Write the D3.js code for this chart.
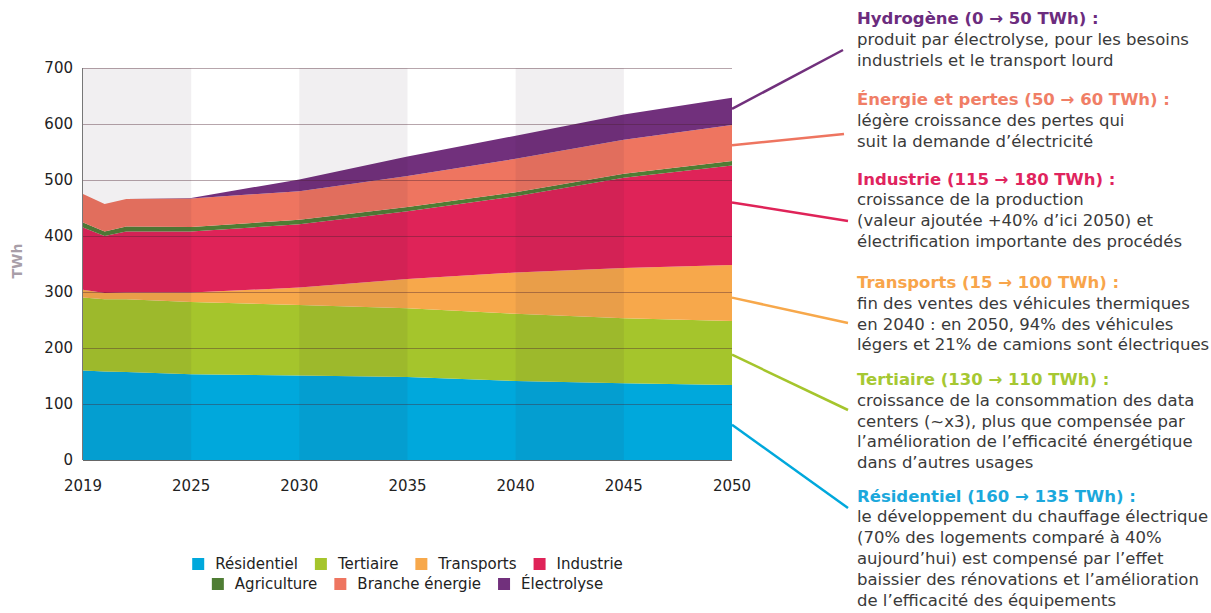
<!DOCTYPE html>
<html>
<head>
<meta charset="utf-8">
<script src="https://cdn.jsdelivr.net/npm/d3@7"></script>
<style>
  body { margin: 0; background: #fff; }
  svg { display: block; font-family: "DejaVu Sans", Verdana, sans-serif; }
</style>
</head>
<body>
<div id="vis"></div>
<script>
// data (TWh)
const years = [2019, 2020, 2021, 2025, 2030, 2035, 2040, 2045, 2050];
const residentiel = [160, 158, 157, 153, 151, 148, 141, 137, 134];
const tertiaire   = [130, 129, 130, 129, 126, 123, 120, 116, 114];
const transports  = [14, 11, 12, 17, 31, 52, 74, 90, 100];
const industrie   = [111, 102, 109, 109, 113, 121, 136, 161, 178];
const agriculture = [9, 8, 9, 8, 8, 8, 7, 7, 8];
const brancheEnergie = [51, 49, 49, 51, 51, 55, 60, 61, 64];
const electrolyse = [0, 0, 0, 1, 21, 35, 41, 45, 49];

const seriesNames = ["Résidentiel", "Tertiaire", "Transports", "Industrie", "Agriculture", "Branche énergie", "Électrolyse"];
const seriesValues = [residentiel, tertiaire, transports, industrie, agriculture, brancheEnergie, electrolyse];
const seriesColors = ["#00a8dc", "#a5c52c", "#f7a84b", "#df2358", "#4f7d34", "#ee7560", "#71307c"];

const xTicks = [2019, 2025, 2030, 2035, 2040, 2045, 2050];
const yTicks = [0, 100, 200, 300, 400, 500, 600, 700];
const bands = [[2019, 2025], [2030, 2035], [2040, 2045]];

// annotations on the right, from the top down
const notes = [
  { title: "Hydrogène (0 → 50 TWh) :", color: "#6c2c7e", series: 6, anchorY: 627,
    lines: ["produit par électrolyse, pour les besoins", "industriels et le transport lourd"] },
  { title: "Énergie et pertes (50 → 60 TWh) :", color: "#f07e66", series: 5, anchorY: 562,
    lines: ["légère croissance des pertes qui", "suit la demande d’électricité"] },
  { title: "Industrie (115 → 180 TWh) :", color: "#e0245e", series: 3, anchorY: 460,
    lines: ["croissance de la production", "(valeur ajoutée +40% d’ici 2050) et", "électrification importante des procédés"] },
  { title: "Transports (15 → 100 TWh) :", color: "#f8a54b", series: 2, anchorY: 290,
    lines: ["fin des ventes des véhicules thermiques", "en 2040 : en 2050, 94% des véhicules", "légers et 21% de camions sont électriques"] },
  { title: "Tertiaire (130 → 110 TWh) :", color: "#a6c832", series: 1, anchorY: 188,
    lines: ["croissance de la consommation des data", "centers (~x3), plus que compensée par", "l’amélioration de l’efficacité énergétique", "dans d’autres usages"] },
  { title: "Résidentiel (160 → 135 TWh) :", color: "#1ba8dc", series: 0, anchorY: 63,
    lines: ["le développement du chauffage électrique", "(70% des logements comparé à 40%", "aujourd’hui) est compensé par l’effet", "baissier des rénovations et l’amélioration", "de l’efficacité des équipements"] }
];
// leader line ends and title baselines of each text block
const noteEnds = [[843, 50], [844, 134], [848, 221], [848, 323], [848, 410], [848, 508]];
const noteTop = [24, 105, 184.5, 288, 385, 501.5];

const W = 1211, H = 613;
const margin = { left: 83, top: 68, right: 479, bottom: 153 };
const width = W - margin.left - margin.right,
      height = H - margin.top - margin.bottom;

const svg = d3.select("#vis").append("svg")
    .attr("width", W)
    .attr("height", H);

const g = svg.append("g")
    .attr("transform", "translate(" + margin.left + "," + margin.top + ")");

// the source axis gives 2019-2025 the same width as each later 5-year step
const x = d3.scaleLinear()
    .domain([2019, 2021, 2025, 2050])
    .range([0, 2, 5, 30].map(u => u * width / 30));
const y = d3.scaleLinear().domain([0, 700]).range([height, 0]);

// build a table for d3.stack
const table = years.map((yr, i) => {
    const row = { year: yr };
    seriesNames.forEach((n, k) => { row[n] = seriesValues[k][i]; });
    return row;
});
const stacked = d3.stack().keys(seriesNames)(table);

const area = d3.area()
    .x(d => x(d.data.year))
    .y0(d => y(d[0]))
    .y1(d => y(d[1]));

g.selectAll(".layer")
    .data(stacked)
    .enter().append("path")
    .attr("class", "layer")
    .attr("fill", (d, i) => seriesColors[i])
    .attr("d", area);

// shaded bands, drawn over the areas
g.selectAll(".band")
    .data(bands)
    .enter().append("rect")
    .attr("class", "band")
    .attr("x", d => x(d[0]))
    .attr("width", d => x(d[1]) - x(d[0]))
    .attr("y", 0)
    .attr("height", height)
    .attr("fill", "#3a203a")
    .attr("opacity", 0.07);

// grid lines
g.selectAll(".grid")
    .data(yTicks.filter(v => v > 0))
    .enter().append("line")
    .attr("class", "grid")
    .attr("x1", 0).attr("x2", width)
    .attr("y1", d => Math.round(y(d)) + 0.5)
    .attr("y2", d => Math.round(y(d)) + 0.5)
    .attr("stroke", "#4a2030")
    .attr("stroke-opacity", 0.4)
    .attr("stroke-width", 1);

// axis lines
g.append("line")
    .attr("x1", 0).attr("x2", width)
    .attr("y1", height + 0.5).attr("y2", height + 0.5)
    .attr("stroke", "#666").attr("stroke-width", 1.2);
g.append("line")
    .attr("x1", -0.5).attr("x2", -0.5)
    .attr("y1", y(700)).attr("y2", height)
    .attr("stroke", "#777").attr("stroke-width", 1);

// y tick labels
g.selectAll(".ylab")
    .data(yTicks)
    .enter().append("text")
    .attr("class", "ylab")
    .attr("x", -10)
    .attr("y", d => y(d))
    .attr("dy", "0.36em")
    .attr("text-anchor", "end")
    .attr("font-size", "15px")
    .attr("fill", "#222")
    .text(d => d);

// x tick labels
g.selectAll(".xlab")
    .data(xTicks)
    .enter().append("text")
    .attr("class", "xlab")
    .attr("x", d => x(d))
    .attr("y", height + 31)
    .attr("text-anchor", "middle")
    .attr("font-size", "15px")
    .attr("fill", "#222")
    .text(d => d);

// y axis title
svg.append("text")
    .attr("transform", "translate(22,261) rotate(-90)")
    .attr("text-anchor", "middle")
    .attr("font-size", "14px")
    .attr("font-weight", "bold")
    .attr("fill", "#a89ea8")
    .text("TWh");

// legend, two centred rows
const legendRows = [[0, 1, 2, 3], [4, 5, 6]];
const legendY = [564, 584];
legendRows.forEach((row, r) => {
    const lg = svg.append("g");
    let cx = 0;
    row.forEach(k => {
        const item = lg.append("g").attr("transform", "translate(" + cx + ",0)");
        item.append("rect")
            .attr("x", 0).attr("y", -6)
            .attr("width", 12).attr("height", 12)
            .attr("fill", seriesColors[k]);
        const t = item.append("text")
            .attr("x", 23).attr("y", 0)
            .attr("dy", "0.35em")
            .attr("font-size", "15px")
            .attr("fill", "#222")
            .text(seriesNames[k]);
        cx += 23 + t.node().getComputedTextLength() + 17;
    });
    const total = cx - 17;
    lg.attr("transform", "translate(" + (margin.left + width / 2 - total / 2) + "," + legendY[r] + ")");
});

// leader lines from the right edge of the chart to each note
notes.forEach((n, i) => {
    svg.append("line")
        .attr("x1", margin.left + width).attr("y1", margin.top + y(n.anchorY))
        .attr("x2", noteEnds[i][0]).attr("y2", noteEnds[i][1])
        .attr("stroke", seriesColors[n.series])
        .attr("stroke-width", 2.5);
});

// note text blocks
const lineStep = 20.8, textX = 857;
notes.forEach((n, i) => {
    const t = svg.append("text")
        .attr("x", textX)
        .attr("font-size", "16.5px");
    t.append("tspan")
        .attr("x", textX).attr("y", noteTop[i])
        .attr("font-weight", "bold")
        .attr("fill", n.color)
        .text(n.title);
    n.lines.forEach((l, j) => {
        t.append("tspan")
            .attr("x", textX).attr("y", noteTop[i] + lineStep * (j + 1))
            .attr("fill", "#3a3a3a")
            .text(l);
    });
});
</script>
</body>
</html>
